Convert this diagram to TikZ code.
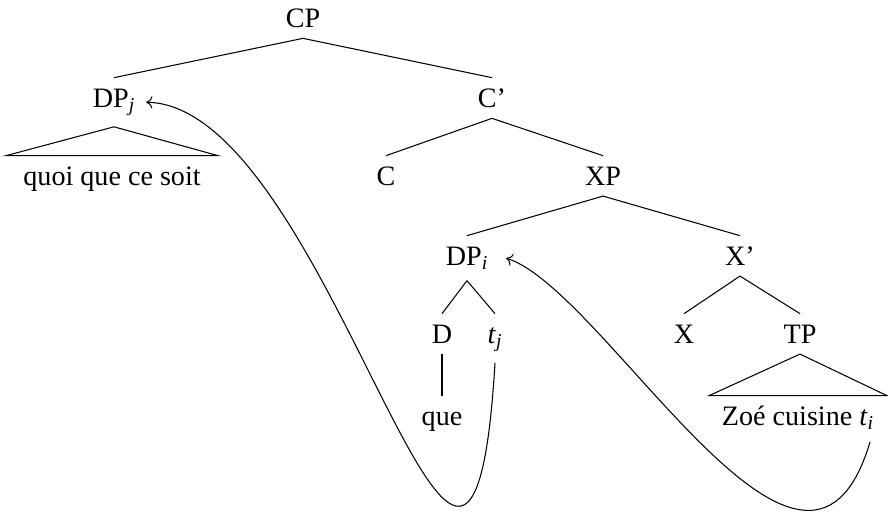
\documentclass[tikz,border=0pt]{standalone}
\usepackage{amsmath}
\usepackage{fontspec}
\setmainfont{Liberation Serif}
\usepackage{tikz}
\usetikzlibrary{arrows.meta}

\begin{document}
\begin{tikzpicture}[x=0.02cm, y=-0.02cm, font=\fontsize{16}{19}\selectfont,
  line width=0.6pt, >={Computer Modern Rightarrow[width=7pt,length=3.5pt]},
  cat/.style={anchor=base, inner sep=6pt, text height=10.4pt}]
\useasboundingbox (0,0) rectangle (888,518);
\node[cat] (CP) at (303,27) {CP};
\node[cat] (DPj) at (114,107) {DP$_{\textit{j}}$};
\node[cat] (Cbar) at (492,107) {C'};
\node[cat,minimum width=4.22cm] (qq) at (112,185) {quoi que ce soit};
\node[cat] (C) at (386,185) {C};
\node[cat] (XP) at (603,185) {XP};
\node[cat] (DPi) at (467,265) {DP$_{\textit{i}}$};
\node[cat] (Xbar) at (740,265) {X'};
\node[cat] (D) at (442,343) {D};
\node[cat] (tj) at (495,343) {\textit{t}$_{\textit{j}}$};
\node[cat] (X) at (684,343) {X};
\node[cat] (TP) at (800,343) {TP};
\node[cat] (que) at (442,425) {que};
\node[cat,minimum width=3.54cm] (zc) at (798,425) {Zoé cuisine \textit{t}$_{\textit{i}}$};
\coordinate (ti) at (870,442);

\draw (CP.south) -- (DPj.north) (CP.south) -- (Cbar.north);
\draw (Cbar.south) -- (C.north) (Cbar.south) -- (XP.north);
\draw (XP.south) -- (DPi.north) (XP.south) -- (Xbar.north);
\draw (DPi.south) -- (D.north) (DPi.south) -- (tj.north);
\draw (Xbar.south) -- (X.north) (Xbar.south) -- (TP.north);
\draw (D.south) -- (que.north);
\draw (DPj.south) -- (qq.north west) -- (qq.north east) -- cycle;
\draw (TP.south) -- (zc.north west) -- (zc.north east) -- cycle;

\draw[->] (tj.south) .. controls +(-26,435) and +(188,3) .. (DPj.east);
\draw[->] (ti) .. controls +(-65,218) and +(100,32) .. ([xshift=4pt]DPi.east);
\end{tikzpicture}
\end{document}
